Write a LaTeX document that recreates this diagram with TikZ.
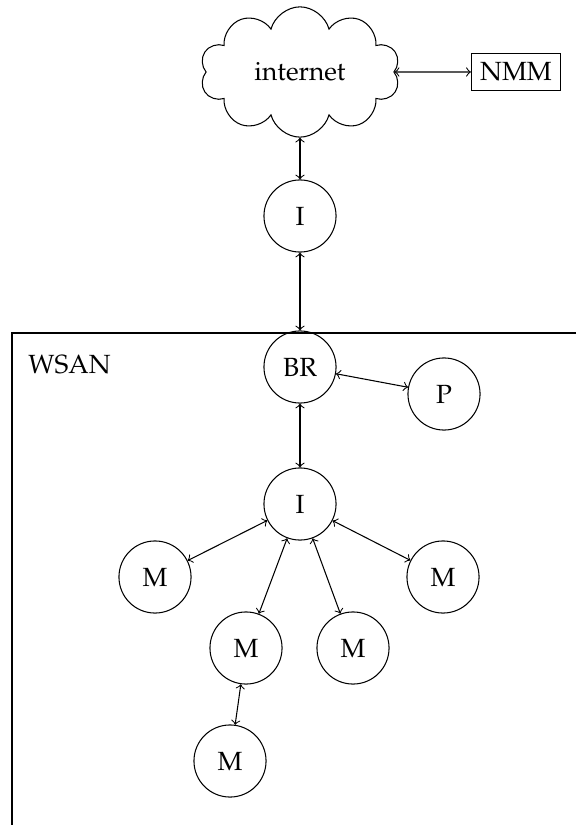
\documentclass[tikz,border=0pt]{standalone}
\usepackage[T1]{fontenc}
\usepackage{mathpazo}
\usetikzlibrary{shapes.symbols}
\begin{document}
\begin{tikzpicture}[x=0.38pt,y=-0.38pt,
  dev/.style={circle,draw,minimum size=27.4pt,inner sep=0pt},
  link/.style={<->}]
\useasboundingbox (0,0) rectangle (576,825);
% network boundary (open towards the right and bottom)
\draw (576,333) -| (12,825);
\node[anchor=west] (wsan) at (19,365) {WSAN};
\node[cloud,draw,cloud puffs=10,cloud ignores aspect,
      minimum width=76pt,minimum height=49.5pt] (net) at (300,72) {internet};
\node[draw] (nmm) at (516,72) {NMM};
\node[dev] (i1) at (300,216) {I};
\node[dev] (br) at (300,367) {BR};
\node[dev] (p)  at (444,394) {P};
\node[dev] (i2) at (300,504) {I};
\node[dev] (m1) at (155,577) {M};
\node[dev] (m2) at (443,577) {M};
\node[dev] (m3) at (246,648) {M};
\node[dev] (m4) at (353,648) {M};
\node[dev] (m5) at (230,761) {M};
\draw[link] (net) -- (nmm);
\draw[link] (net) -- (i1);
\draw[link] (i1) -- (br);
\draw[link] (br) -- (p);
\draw[link] (br) -- (i2);
\draw[link] (i2) -- (m1);
\draw[link] (i2) -- (m2);
\draw[link] (i2) -- (m3);
\draw[link] (i2) -- (m4);
\draw[link] (m3) -- (m5);
\end{tikzpicture}
\end{document}
